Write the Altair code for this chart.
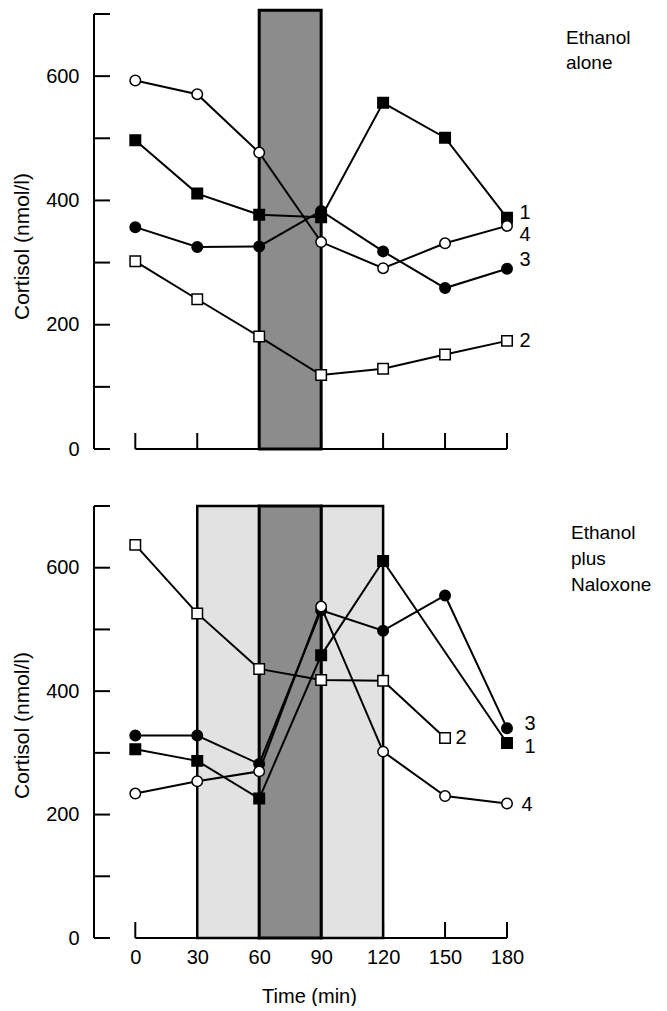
import altair as alt
import pandas as pd

# ---------------- data ----------------
TIMES = [0, 30, 60, 90, 120, 150, 180]
SERIES_IDS = ["1", "2", "3", "4"]
SHAPES = ["square", "square", "circle", "circle"]
FILLS = ["black", "white", "black", "white"]

# Panel A: Ethanol alone
TOP_T = {"1": TIMES, "2": TIMES, "3": TIMES, "4": TIMES}
TOP_S1 = [497, 411, 377, 373, 557, 501, 372]
TOP_S2 = [302, 241, 181, 119, 129, 152, 174]
TOP_S3 = [357, 325, 326, 383, 318, 259, 290]
TOP_S4 = [593, 571, 477, 333, 291, 331, 359]
TOP_V = {"1": TOP_S1, "2": TOP_S2, "3": TOP_S3, "4": TOP_S4}
TOP_BAR_START = [60]
TOP_BAR_END = [90]
TOP_BAR_KIND = ["hatch"]
TOP_BAR_HI = 706
TOP_NOTE = "Ethanol\nalone"

# Panel B: Ethanol plus Naloxone
BOT_T = {"1": [0, 30, 60, 90, 120, 180],
         "2": [0, 30, 60, 90, 120, 150],
         "3": TIMES, "4": TIMES}
BOT_S1 = [306, 287, 226, 458, 611, 316]
BOT_S2 = [637, 526, 436, 418, 417, 324]
BOT_S3 = [328, 328, 282, 531, 498, 555, 340]
BOT_S4 = [234, 254, 270, 537, 302, 230, 218]
BOT_V = {"1": BOT_S1, "2": BOT_S2, "3": BOT_S3, "4": BOT_S4}
BOT_BAR_START = [30, 60, 90]
BOT_BAR_END = [60, 90, 120]
BOT_BAR_KIND = ["dot", "hatch", "dot"]
BOT_BAR_HI = 700
BOT_NOTE = "Ethanol\nplus\nNaloxone"

Y_TICKS = [0, 100, 200, 300, 400, 500, 600, 700]
Y_LABELS = [0, 200, 400, 600]
X_DOMAIN = [-20, 180]
Y_DOMAIN = [0, 700]

# ---------------- style ----------------
FONT = "Liberation Sans"
W = 413
TOP_LABEL_OFF = {"1": (18, -5), "2": (18, 0), "3": (18, -9), "4": (18, 9)}
BOT_LABEL_OFF = {"1": (23, 4), "2": (16, 0), "3": (23, -4), "4": (20, 2)}


def panel(tmap, vmap, bstart, bend, bkind, bhi, H, label_off, note, note_xy,
          line_h, show_x, title_y):
    rows = []
    for sid in SERIES_IDS:
        for t, v in zip(tmap[sid], vmap[sid]):
            rows.append({"series": sid, "t": t, "v": v})
    df = pd.DataFrame(rows)
    ends = df.groupby("series").tail(1).reset_index(drop=True)
    bars = pd.DataFrame({"start": bstart, "end": bend, "kind": bkind,
                         "lo": [0] * len(bstart), "hi": [bhi] * len(bstart)})

    xs = alt.Scale(domain=X_DOMAIN, nice=False, zero=False)
    ys = alt.Scale(domain=Y_DOMAIN, nice=False, zero=False)
    yaxis = alt.Axis(values=Y_LABELS, domain=False, ticks=False, grid=False,
                     labelPadding=15, labelFont=FONT, labelFontSize=20,
                     labelFlush=False, labelColor="black",
                     title="Cortisol (nmol/l)", titleFont=FONT, titleFontSize=21,
                     titleFontWeight="normal", titleColor="black",
                     titleAngle=270, titleX=-72, titleY=title_y,
                     titleBaseline="middle", titleAlign="center")
    if show_x:
        xaxis = alt.Axis(values=TIMES, domain=False, ticks=False, grid=False,
                         labelPadding=9, labelFont=FONT, labelFontSize=20,
                         labelFlush=False, labelColor="black", labelOverlap=False,
                         title="Time (min)", titleFont=FONT, titleFontSize=20,
                         titleFontWeight="normal", titleColor="black",
                         titleX=215, titleY=58, titleBaseline="middle",
                         titleAlign="center")
    else:
        xaxis = None

    X = lambda f: alt.X(f, scale=xs, axis=xaxis)
    Y = lambda f: alt.Y(f, scale=ys, axis=yaxis)

    yline = alt.Chart(pd.DataFrame({"a": [0]})).mark_rule(
        color="black", strokeWidth=2).encode(
        x=alt.value(0), y=alt.value(0), y2=alt.value(H))
    yt = alt.Chart(pd.DataFrame({"v": Y_TICKS})).mark_rule(
        color="black", strokeWidth=2).encode(
        x=alt.value(0), x2=alt.value(16), y=Y("v:Q"))
    xline = alt.Chart(pd.DataFrame({"t0": [TIMES[0]], "t1": [TIMES[-1]]})).mark_rule(
        color="black", strokeWidth=2).encode(
        x=X("t0:Q"), x2="t1:Q", y=alt.value(H))
    xt = alt.Chart(pd.DataFrame({"t": TIMES})).mark_rule(
        color="black", strokeWidth=2).encode(
        x=X("t:Q"), y=alt.value(H), y2=alt.value(H - 16))
    bar_base = alt.Chart(bars)
    dots = bar_base.transform_filter(alt.datum.kind == "dot").mark_rect(
        fill="#e2e2e2", stroke="black", strokeWidth=2.5).encode(
        x=X("start:Q"), x2="end:Q", y=Y("lo:Q"), y2="hi:Q")
    hatch = bar_base.transform_filter(alt.datum.kind == "hatch").mark_rect(
        fill="#8c8c8c", stroke="black", strokeWidth=3).encode(
        x=X("start:Q"), x2="end:Q", y=Y("lo:Q"), y2="hi:Q")
    base = alt.Chart(df)
    lines = base.mark_line(color="black", strokeWidth=2).encode(
        x=X("t:Q"), y=Y("v:Q"), detail="series:N", order="t:Q")
    pts = base.mark_point(filled=True, stroke="black", strokeWidth=1.5,
                          opacity=1).encode(
        x=X("t:Q"), y=Y("v:Q"),
        shape=alt.Shape("series:N", scale=alt.Scale(domain=SERIES_IDS, range=SHAPES),
                        legend=None),
        fill=alt.Fill("series:N", scale=alt.Scale(domain=SERIES_IDS, range=FILLS),
                      legend=None),
        size=alt.Size("series:N", scale=alt.Scale(domain=SERIES_IDS,
                                                  range=[110, 110, 100, 100]),
                      legend=None))
    labs = []
    for sid in SERIES_IDS:
        dx, dy = label_off[sid]
        labs.append(alt.Chart(ends).transform_filter(alt.datum.series == sid)
                    .mark_text(font=FONT, fontSize=20, color="black",
                               dx=dx, dy=dy, align="center", baseline="middle")
                    .encode(x=X("t:Q"), y=Y("v:Q"), text="series:N"))
    note_c = alt.Chart(pd.DataFrame({"txt": [note]})).mark_text(
        font=FONT, fontSize=19, color="black", align="left",
        baseline="alphabetic", lineBreak="\n", lineHeight=line_h).encode(
        x=alt.value(note_xy[0]), y=alt.value(note_xy[1]), text="txt:N")

    return alt.layer(yline, yt, xline, xt, dots, hatch, lines, pts, *labs,
                     note_c).properties(width=W, height=H)


top = panel(TOP_T, TOP_V, TOP_BAR_START, TOP_BAR_END, TOP_BAR_KIND, TOP_BAR_HI,
            435, TOP_LABEL_OFF, TOP_NOTE, (472, 30), 25, False, 232)
bot = panel(BOT_T, BOT_V, BOT_BAR_START, BOT_BAR_END, BOT_BAR_KIND, BOT_BAR_HI,
            432, BOT_LABEL_OFF, BOT_NOTE, (477, 33), 26, True, 219)

chart = alt.vconcat(top, bot, spacing=45).properties(
    padding={"left": 3, "top": 0, "right": 0, "bottom": 0},
    background="white",
).configure_view(stroke=None)

chart.save("out.html", embed_options={"renderer": "svg", "actions": False})
